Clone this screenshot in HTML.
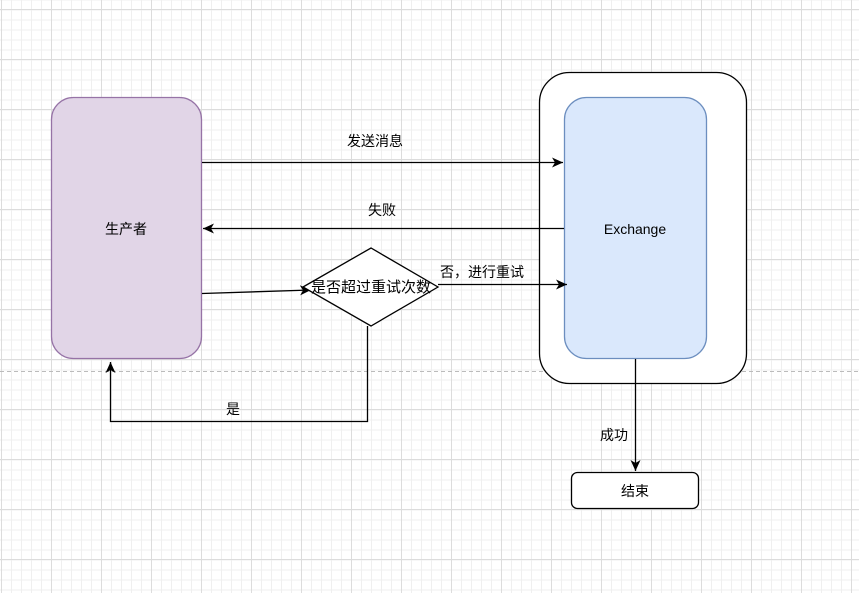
<!DOCTYPE html>
<html><head><meta charset="utf-8"><style>
body{margin:0;background:#fff}
text{font-family:"Liberation Sans","Noto Sans CJK SC",sans-serif;font-size:14px;fill:#000}
</style></head><body>
<svg width="859" height="593" xmlns="http://www.w3.org/2000/svg">
<defs>
<pattern id="minor" x="1" y="-0.5" width="10" height="10" patternUnits="userSpaceOnUse"><path d="M0 0.5H10M0.5 0V10" stroke="#efefef" stroke-width="1" fill="none"/></pattern>
<pattern id="major" x="1" y="9" width="50" height="50" patternUnits="userSpaceOnUse"><path d="M0 0.5H50M0.5 0V50" stroke="#dcdcdc" stroke-width="1" fill="none"/></pattern>
<marker id="a" markerWidth="12" markerHeight="12" refX="11" refY="6" orient="auto" markerUnits="userSpaceOnUse"><path d="M0 1L11 6L0 11L3 6Z" fill="#000"/></marker>
</defs>
<rect width="859" height="593" fill="url(#minor)"/>
<rect width="859" height="593" fill="url(#major)"/>
<line x1="0" y1="371.5" x2="859" y2="371.5" stroke="#bbb" stroke-dasharray="4 3"/>
<g stroke-width="1.3">
<rect x="51.5" y="97.5" width="150" height="261" rx="22" fill="#e1d5e7" stroke="#9673a6"/>
<rect x="539.5" y="72.5" width="207" height="311" rx="30" fill="#fff" stroke="#000"/>
<rect x="564.5" y="97.5" width="142" height="261" rx="22" fill="#dae8fc" stroke="#6c8ebf"/>
<line x1="202" y1="162.5" x2="563" y2="162.5" stroke="#000" marker-end="url(#a)"/>
<line x1="564" y1="228.5" x2="203" y2="228.5" stroke="#000" marker-end="url(#a)"/>
<line x1="202" y1="293.5" x2="311" y2="290" stroke="#000" marker-end="url(#a)"/>
<path d="M303 287L371 248L438 287L371 326Z" fill="#fff" stroke="#000"/>
<line x1="438" y1="284.5" x2="567" y2="284.5" stroke="#000" marker-end="url(#a)"/>
<path d="M367.5 326V421.5H110.5V362" fill="none" stroke="#000" marker-end="url(#a)"/>
<line x1="635.5" y1="359" x2="635.5" y2="471" stroke="#000" marker-end="url(#a)"/>
<rect x="571.5" y="472.5" width="127" height="36" rx="6" fill="#fff" stroke="#000"/>
</g>
<text x="126" y="234" text-anchor="middle">生产者</text>
<text x="635" y="234" text-anchor="middle">Exchange</text>
<text x="375" y="146" text-anchor="middle">发送消息</text>
<text x="382" y="215" text-anchor="middle">失败</text>
<text x="371" y="292" text-anchor="middle" style="font-size:15px">是否超过重试次数</text>
<text x="482" y="277" text-anchor="middle">否，进行重试</text>
<text x="233" y="414" text-anchor="middle">是</text>
<text x="614" y="440" text-anchor="middle">成功</text>
<text x="635" y="496" text-anchor="middle">结束</text>
</svg>
</body></html>
